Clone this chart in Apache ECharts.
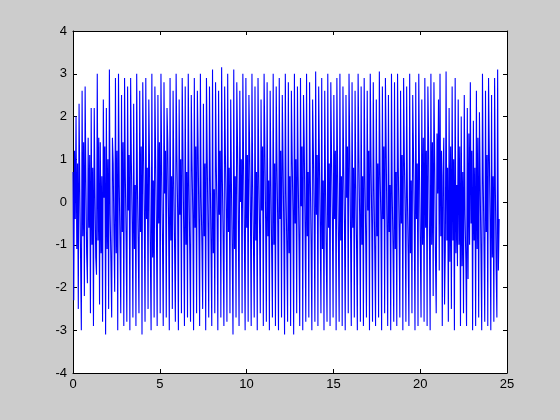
<!DOCTYPE html>
<html>
<head>
<meta charset="utf-8">
<script src="https://cdn.jsdelivr.net/npm/echarts@6/dist/echarts.min.js"></script>
<style>
html,body{margin:0;padding:0;background:#cccccc;}
#chart{width:560px;height:420px;}
</style>
</head>
<body>
<div id="chart"></div>
<script>
// Sample positions: uniform sampling starting at 0
const sampleStart = 0;
const sampleStep = 0.04368;

// Signal values, read (estimated) from the reference picture, left to right
const signalValues = [
  // dense, irregular start (x 0 - 3)
  0.7,-2.3,1.2,-0.4, 2.0,-1.1,0.9,-2.5, 2.3,0.3,-1.3,-3.0, 2.6,-0.8,1.4,-2.2, 2.7,0.5,-1.2,-1.9,
  1.5,-0.6,1.1,-2.6, 2.2,-1.0,0.8,-2.9, 2.2,0.2,-1.3,-1.7, 3.0,-0.9,1.5,-2.4, 1.4,-1.2,0.6,-2.8,
  2.4,0.1,1.3,-3.1, 2.2,-1.1,1.0,-2.5, 3.1,-0.3,-1.4,-2.7, 1.5,0.9,-0.8,-2.1, 2.9,-1.2,1.2,-3.0,
  3.0,0.4,-1.0,-2.6, 2.5,-0.7,1.4,-2.9,
  // regular oscillation (x 3 - 20.5)
  2.9,0.6,-0.8,-2.8, 2.7,-0.2,1.1,-3.0, 2.9,0.9,-0.5,-2.7, 2.3,-1.1,0.4,-2.9, 3.0,0.3,-1.0,-2.6, 2.6,-0.7,1.3,-3.1, 2.8,1.2,-0.3,-2.8, 2.9,-0.4,0.8,-2.5, 2.4,0.8,-1.2,-3.0, 3.0,-1.3,0.5,-2.7,
  2.7,1.0,-0.6,-2.9, 2.5,-0.5,1.4,-2.6, 3.0,0.7,-0.9,-2.9, 2.8,0.2,1.2,-2.7, 2.2,1.4,-0.4,-3.0, 2.9,-0.9,0.6,-2.5, 2.6,0.5,-1.1,-2.8, 3.0,1.1,-0.2,-3.0, 2.4,-0.3,1.0,-2.6, 2.9,1.2,-0.7,-2.9,
  2.7,-1.0,0.7,-2.7, 3.0,0.4,-1.2,-2.8, 2.5,0.9,-0.3,-3.0, 2.9,-0.6,1.3,-2.6, 2.6,1.3,-0.5,-2.9, 3.0,0.1,-1.0,-2.5, 2.3,-0.8,0.9,-3.0, 2.9,1.0,-0.6,-2.7, 2.7,0.6,-1.1,-2.9, 3.1,-1.2,0.3,-2.6,
  2.8,0.8,-0.4,-3.0, 2.6,-0.3,1.2,-2.7, 3.15,0.5,-0.9,-2.9, 2.7,1.1,-0.2,-2.8, 3.0,-0.7,0.8,-2.6, 2.4,0.3,-1.2,-3.1, 3.1,-1.1,0.6,-2.7, 2.8,1.3,-0.5,-2.9, 2.6,0.0,1.0,-2.6, 3.0,0.9,-0.8,-3.0,
  2.9,-0.6,1.1,-2.8, 2.5,1.2,-0.3,-2.9, 3.0,0.4,-1.0,-2.7, 2.7,-0.9,0.7,-3.0, 2.9,0.7,-0.6,-2.6, 2.4,-0.2,1.3,-2.9, 3.0,1.3,-0.4,-2.8, 2.8,-0.8,0.5,-3.0, 2.6,0.5,-1.2,-2.7, 3.0,-1.0,0.9,-2.9,
  2.7,0.9,-0.5,-3.0, 2.9,-0.4,1.2,-2.7, 2.5,1.0,-0.7,-3.1, 3.0,0.2,-1.1,-2.8, 2.8,-1.2,0.6,-2.9, 2.6,1.1,-0.2,-3.1, 3.0,-0.5,1.0,-2.6, 2.7,0.6,-0.9,-2.9, 2.9,-0.1,1.3,-3.0, 2.5,1.3,-0.6,-2.8,
  3.0,-0.8,0.7,-2.7, 2.8,0.5,-1.0,-3.0, 2.4,1.2,-0.3,-2.8, 3.05,-0.3,1.1,-2.9, 2.7,0.9,-0.6,-2.6, 2.9,-1.1,0.5,-3.0, 2.6,0.3,-1.2,-2.8, 3.0,-0.6,0.9,-2.9, 2.8,1.0,-0.4,-2.7, 2.5,-0.4,1.2,-3.0,
  2.9,0.7,-0.9,-2.8, 3.0,-0.9,0.6,-2.9, 2.7,0.8,-0.5,-3.0, 2.5,0.1,1.3,-2.6, 3.0,1.2,-0.7,-2.9, 2.8,-0.6,0.8,-2.7, 2.6,0.4,-1.1,-3.0, 3.0,1.1,-0.3,-2.8, 2.7,-1.0,0.6,-2.9, 2.9,0.6,-0.8,-2.7,
  2.6,-0.2,1.2,-3.0, 3.0,1.0,-0.5,-2.8, 2.8,0.3,-1.2,-2.9, 2.4,-0.8,0.9,-2.7, 3.05,0.7,-0.4,-3.0, 2.7,-0.4,1.3,-2.6, 2.9,1.3,-0.6,-2.9, 2.5,-0.7,0.4,-3.0, 3.0,0.2,-1.1,-2.8, 2.8,-1.1,0.7,-2.9,
  3.0,0.8,-0.6,-2.7, 2.6,-0.5,1.1,-3.0, 2.9,1.0,-0.3,-2.8, 2.7,0.1,-1.2,-2.9, 3.0,-1.2,0.5,-2.6, 2.5,1.2,-0.4,-3.0, 2.8,-0.4,0.9,-2.9,
  3.0,0.6,-1.0,-2.7, 2.4,-1.0,1.5,-2.8, 2.9,-0.6,1.2,-2.9, 2.7,1.4,-0.8,-3.0,
  // dense, irregular stretch (x 20.5 - 23.5)
  3.0,-1.0,1.4,-2.2, 2.8,0.9,-1.3,-2.6, 1.6,0.2,2.4,-1.6, 3.0,-0.8,1.2,-2.9, 0.6,1.5,-2.4,-1.1,
  3.05,-0.9,0.8,-2.8, 2.2,-1.4,1.3,-2.5, 2.7,-0.9,1.0,-3.0, 2.9,-1.2,0.4,-1.5, 2.4,-1.0,1.3,-2.9,
  2.0,-1.5,0.7,-2.6, 2.5,-0.3,-1.3,-2.9, 2.2,-1.8,1.6,-1.0, 2.8,-0.5,1.2,-3.0, 1.9,-0.9,0.8,-2.9,
  2.6,-1.1,1.5,-2.7, 2.1,0.4,-1.2,-3.0,
  // end (x 23.5 - 24.55)
  3.0,0.5,-1.0,-2.8, 2.6,-0.7,1.1,-2.9, 2.9,1.2,-0.4,-3.0, 2.5,-1.3,0.6,-2.8, 2.9,0.3,-1.5,-2.7, 3.1,-1.6,-0.4
];

const xTicks = [0, 5, 10, 15, 20, 25];
const yTicks = [-4, -3, -2, -1, 0, 1, 2, 3, 4];

const seriesData = signalValues.map((v, i) => [sampleStart + i * sampleStep, v]);

const chart = echarts.init(document.getElementById('chart'), null, {renderer: 'canvas'});
const labelFont = {color: '#000', fontFamily: 'Liberation Sans, Arial, sans-serif', fontSize: 13};
const axisLine = {show: true, onZero: false, lineStyle: {color: '#000', width: 1}};
const tickIn = {show: true, inside: true, length: 4, lineStyle: {color: '#000', width: 1}};

chart.setOption({
  backgroundColor: '#cccccc',
  animation: false,
  grid: {left: 73, top: 31, width: 434, height: 342, containLabel: false, show: true, backgroundColor: '#ffffff', borderWidth: 0},
  xAxis: [
    {type: 'value', position: 'bottom', min: xTicks[0], max: xTicks[xTicks.length-1], interval: 5,
     axisLine: axisLine, axisTick: tickIn, splitLine: {show: false},
     axisLabel: Object.assign({margin: 5}, labelFont)},
    {type: 'value', position: 'top', min: xTicks[0], max: xTicks[xTicks.length-1], interval: 5,
     axisLine: axisLine, axisTick: tickIn, splitLine: {show: false}, axisLabel: {show: false}}
  ],
  yAxis: [
    {type: 'value', position: 'left', min: yTicks[0], max: yTicks[yTicks.length-1], interval: 1,
     axisLine: axisLine, axisTick: tickIn, splitLine: {show: false},
     axisLabel: Object.assign({margin: 6}, labelFont)},
    {type: 'value', position: 'right', min: yTicks[0], max: yTicks[yTicks.length-1], interval: 1,
     axisLine: axisLine, axisTick: tickIn, splitLine: {show: false}, axisLabel: {show: false}}
  ],
  series: [{
    type: 'line', xAxisIndex: 0, yAxisIndex: 0, data: seriesData,
    showSymbol: false, symbol: 'none', sampling: null,
    lineStyle: {color: '#0000ff', width: 1.1}, itemStyle: {color: '#0000ff'}
  }]
});
</script>
</body>
</html>
